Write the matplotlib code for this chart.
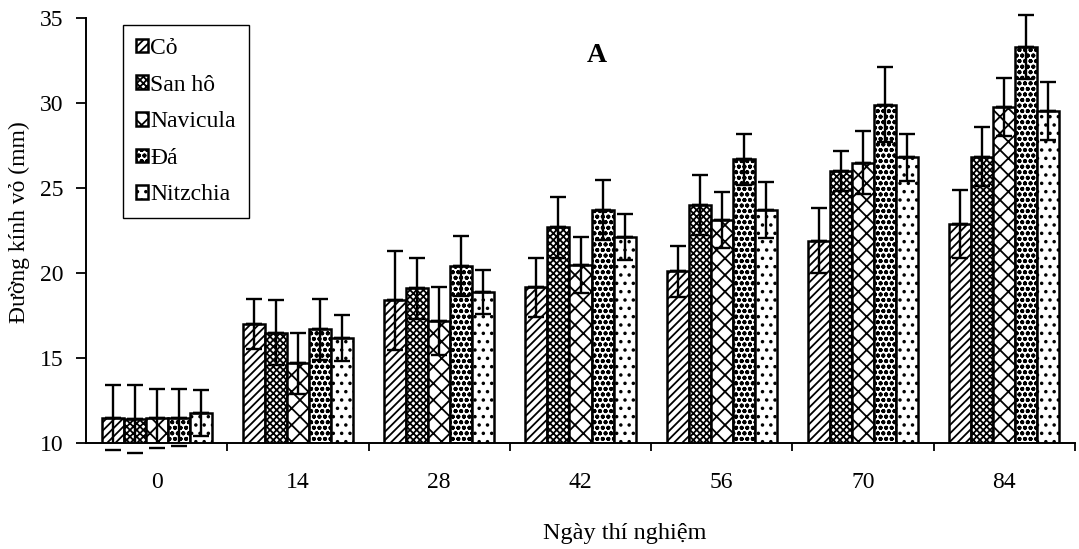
import matplotlib
matplotlib.use("Agg")
import matplotlib.pyplot as plt
import numpy as np

plt.rcParams['font.family'] = ['Liberation Serif', 'DejaVu Serif']
plt.rcParams['hatch.linewidth'] = 1.3

days = ['0', '14', '28', '42', '56', '70', '84']
series_names = ['Cỏ', 'San hô', 'Navicula', 'Đá', 'Nitzchia']

co = [11.5, 17.0, 18.4, 19.15, 20.1, 21.9, 22.9]
co_err = [1.9, 1.45, 2.9, 1.75, 1.5, 1.9, 2.0]
san_ho = [11.4, 16.5, 19.1, 22.7, 24.0, 26.0, 26.85]
san_ho_err = [2.0, 1.9, 1.8, 1.8, 1.75, 1.2, 1.75]
navicula = [11.45, 14.7, 17.2, 20.45, 23.1, 26.5, 29.75]
navicula_err = [1.75, 1.8, 2.0, 1.65, 1.65, 1.85, 1.7]
da = [11.5, 16.7, 20.4, 23.7, 26.7, 29.9, 33.3]
da_err = [1.7, 1.8, 1.75, 1.75, 1.5, 2.2, 1.9]
nitzchia = [11.75, 16.2, 18.9, 22.1, 23.7, 26.8, 29.55]
nitzchia_err = [1.35, 1.35, 1.3, 1.35, 1.65, 1.4, 1.7]

values = [co, san_ho, navicula, da, nitzchia]
errors = [co_err, san_ho_err, navicula_err, da_err, nitzchia_err]
hatches = ['////', 'xxxxx', 'xx', 'ooo', '..']

W, H = 1079, 549
fig = plt.figure(figsize=(W / 100, H / 100), dpi=100)
ax = fig.add_axes([86 / W, 1 - 443 / H, (1075 - 86) / W, (443 - 18) / H])

x = np.arange(len(days))
bw = 0.156
handles = []
for i, (vals, errs, hatch, name) in enumerate(zip(values, errors, hatches, series_names)):
    xpos = x + (i - 2) * bw
    bars = ax.bar(xpos, vals, width=bw, bottom=0, color='white', edgecolor='black',
                  linewidth=1.8, hatch=hatch, label=name, zorder=2)
    handles.append(bars)
    errs = np.array(errs)
    up = ax.errorbar(xpos, vals, yerr=[np.zeros_like(errs), errs], fmt='none',
                     ecolor='black', elinewidth=1.7, capsize=6, capthick=1.7, zorder=3)
    for c in up[1]:
        c.set_clip_on(False)
    for l in up[2]:
        l.set_clip_on(False)
    lo = ax.errorbar(xpos, vals, yerr=[errs, np.zeros_like(errs)], fmt='none',
                     ecolor='black', elinewidth=1.7, capsize=6, capthick=1.7, zorder=3)
    for c in lo[1]:
        c.set_clip_on(False)

ax.set_xlim(-0.5, len(days) - 0.5)
ax.set_ylim(10, 35)
ax.set_yticks([10, 15, 20, 25, 30, 35])
ax.set_xticks(x)
ax.set_xticklabels(days)
ax.set_xticks(np.arange(0.5, len(days)), minor=True)
ax.tick_params(axis='x', which='major', length=0, pad=21, labelsize=17)
ax.tick_params(axis='x', which='minor', length=6, width=1.3, direction='out')
ax.tick_params(axis='y', which='major', length=7, width=1.3, direction='out', pad=9, labelsize=17)

for s in ['top', 'right']:
    ax.spines[s].set_visible(False)
for s in ['left', 'bottom']:
    ax.spines[s].set_linewidth(1.4)

fig.text(19 / W, 1 - 222 / H, 'Đường kính vỏ (mm)', rotation=90, ha='center', va='center', fontsize=17)
fig.text(625 / W, 1 - 533 / H, 'Ngày thí nghiệm', ha='center', va='center', fontsize=17.5)
fig.text(597 / W, 1 - 55 / H, 'A', ha='center', va='center', fontsize=20, fontweight='bold')

leg = ax.legend(handles=handles, loc='upper left',
                bbox_to_anchor=(123 / W, 1 - 25 / H), bbox_transform=fig.transFigure,
                fontsize=17, frameon=True, fancybox=False, framealpha=1,
                edgecolor='black', handlelength=0.5, handleheight=0.5,
                handletextpad=0.1, labelspacing=0.66, borderpad=0.55, borderaxespad=0)
leg.get_frame().set_linewidth(1.0)

fig.savefig('out.png', dpi=100)
